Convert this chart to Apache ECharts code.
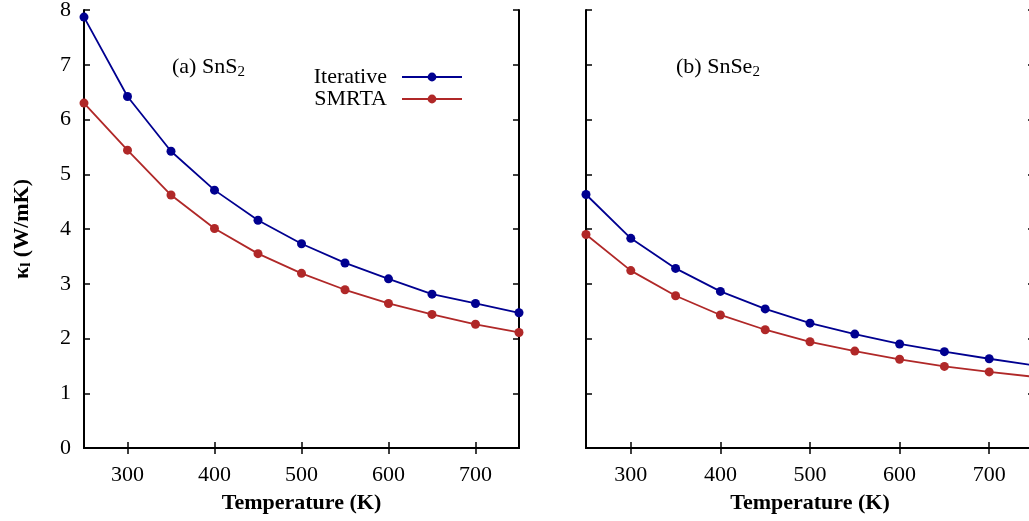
<!DOCTYPE html>
<html>
<head>
<meta charset="utf-8">
<title>Lattice thermal conductivity</title>
<script src="https://cdn.jsdelivr.net/npm/echarts@6/dist/echarts.min.js"></script>
<style>
  html, body { margin: 0; padding: 0; background: #fff; }
  #chart { width: 1029px; height: 521px; }
</style>
</head>
<body>
<div id="chart"></div>
<script>
// ── data ─────────────────────────────────────────────────────────
const temps = [250, 300, 350, 400, 450, 500, 550, 600, 650, 700, 750]

const snS2Iterative  = [7.87, 6.42, 5.42, 4.71, 4.16, 3.73, 3.38, 3.09, 2.81, 2.64, 2.47]
const snS2Smrta      = [6.30, 5.44, 4.62, 4.01, 3.55, 3.19, 2.89, 2.64, 2.44, 2.26, 2.11]
const snSe2Iterative = [4.63, 3.83, 3.28, 2.86, 2.54, 2.28, 2.08, 1.90, 1.76, 1.63, 1.51]
const snSe2Smrta     = [3.90, 3.24, 2.78, 2.43, 2.16, 1.94, 1.77, 1.62, 1.49, 1.39, 1.30]

const xTicks = [300, 400, 500, 600, 700]
const yTicks = [0, 1, 2, 3, 4, 5, 6, 7, 8]

// ── styles ───────────────────────────────────────────────────────
const FONT = 'Liberation Serif'
const FS   = 22
const BLUE = '#000090'
const RED  = '#b02828'
const AXIS_LINE = { lineStyle: { color: '#000', width: 2 } }

const zip = (xs, ys) => xs.map((x, i) => [x, ys[i]])

// bottom/top x axis for one panel
const xAxisPair = (gridIndex) => {
  const base = {
    type: 'value',
    gridIndex,
    min: 250,
    max: 750,
    axisLine: AXIS_LINE,
    axisTick: { inside: true, length: 6, customValues: xTicks, lineStyle: { color: '#000', width: 1.5 } },
    splitLine: { show: false },
  }
  return [
    {
      ...base,
      position: 'bottom',
      axisLabel: { customValues: xTicks, margin: 16, fontSize: FS, fontFamily: FONT, color: '#000' },
      name: 'Temperature (K)',
      nameLocation: 'middle',
      nameGap: 44,
      nameTextStyle: { fontSize: FS, fontWeight: 'bold', fontFamily: FONT, color: '#000' },
    },
    { ...base, position: 'top', axisLabel: { show: false } },
  ]
}

// left/right y axis for one panel
const yAxisPair = (gridIndex, withLabels) => {
  const base = {
    type: 'value',
    gridIndex,
    min: 0,
    max: 8,
    interval: 1,
    axisLine: AXIS_LINE,
    axisTick: { inside: true, length: 6, lineStyle: { color: '#000', width: 1.5 } },
    splitLine: { show: false },
  }
  const left = {
    ...base,
    position: 'left',
    axisLabel: withLabels
      ? { customValues: yTicks, margin: 13, fontSize: FS, fontFamily: FONT, color: '#000' }
      : { show: false },
  }
  if (withLabels) {
    Object.assign(left, {
      name: '{k|κ}{s|l} (W/mK)',
      nameLocation: 'middle',
      nameGap: 50,
      nameTextStyle: {
        fontSize: FS, fontWeight: 'bold', fontFamily: FONT, color: '#000',
        rich: {
          k: { fontSize: FS, fontWeight: 'bold', fontFamily: FONT, color: '#000' },
          s: { fontSize: 15, fontWeight: 'bold', fontFamily: FONT, color: '#000', verticalAlign: 'bottom', padding: [9, 0, 0, 0] },
        },
      },
    })
  }
  return [left, { ...base, position: 'right', axisLabel: { show: false } }]
}

const lineSeries = (name, values, axisIndex, color) => ({
  name,
  type: 'line',
  xAxisIndex: axisIndex,
  yAxisIndex: axisIndex,
  data: zip(temps, values),
  symbol: 'circle',
  symbolSize: 9,
  showSymbol: true,
  lineStyle: { color, width: 1.8 },
  itemStyle: { color },
  clip: false,
  z: 3,
})

const panelLabel = (left, main, sub) => ({
  type: 'text',
  left,
  top: 56,
  style: {
    text: `{m|${main}}{s|${sub}}`,
    rich: {
      m: { fontSize: FS, fontFamily: FONT, fill: '#000' },
      s: { fontSize: 15, fontFamily: FONT, fill: '#000', padding: [10, 0, 0, 0] },
    },
  },
})

const option = {
  animation: false,
  backgroundColor: '#fff',
  textStyle: { fontFamily: FONT },
  grid: [
    { left: 84, top: 10, width: 435, height: 438, outerBoundsMode: 'none' },
    { left: 586, top: 10, width: 448, height: 438, outerBoundsMode: 'none' },
  ],
  xAxis: [...xAxisPair(0), ...xAxisPair(1)],
  yAxis: [...yAxisPair(0, true), ...yAxisPair(1, false)],
  legend: {
    orient: 'vertical',
    align: 'right',
    right: 561,
    top: 61,
    itemWidth: 60,
    itemHeight: 11,
    itemGap: 0,
    selectedMode: false,
    data: ['Iterative', 'SMRTA'],
    textStyle: { fontSize: FS, fontFamily: FONT, color: '#000', padding: [0, 10, 0, 0] },
  },
  graphic: [
    panelLabel(172, '(a) SnS', '2'),
    panelLabel(676, '(b) SnSe', '2'),
  ],
  series: [
    lineSeries('Iterative', snS2Iterative, 0, BLUE),
    lineSeries('SMRTA', snS2Smrta, 0, RED),
    lineSeries('Iterative', snSe2Iterative, 2, BLUE),
    lineSeries('SMRTA', snSe2Smrta, 2, RED),
  ],
}

const chart = echarts.init(document.getElementById('chart'), null, { renderer: 'canvas' })
chart.setOption(option)
</script>
</body>
</html>
